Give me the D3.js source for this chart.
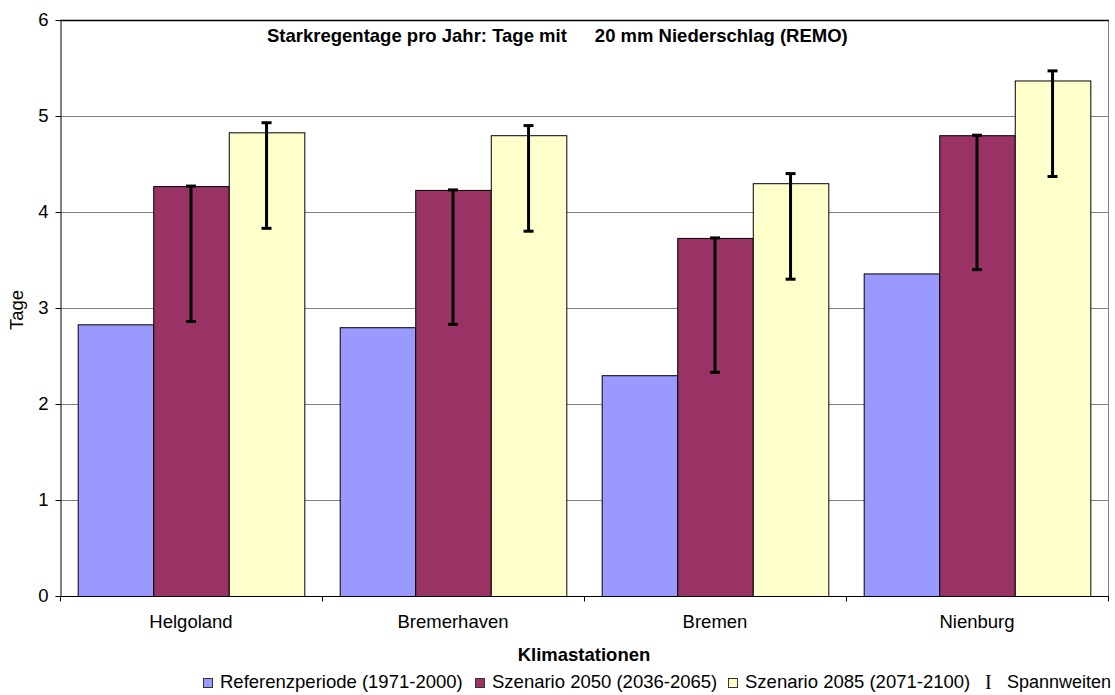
<!DOCTYPE html>
<html>
<head>
<meta charset="utf-8">
<script src="https://cdn.jsdelivr.net/npm/d3@7"></script>
<style>
  body { margin: 0; background: #fff; }
  svg { font-family: "Liberation Sans", Arial, sans-serif; }
</style>
</head>
<body>
<svg id="chart" width="1115" height="695"></svg>
<script>
// data
var stations = ["Helgoland", "Bremerhaven", "Bremen", "Nienburg"];
var seriesNames = ["Referenzperiode (1971-2000)", "Szenario 2050 (2036-2065)", "Szenario 2085 (2071-2100)"];
var refValues = [2.83, 2.80, 2.30, 3.36];
var s2050Values = [4.27, 4.23, 3.73, 4.80];
var s2085Values = [4.83, 4.80, 4.30, 5.37];
var s2050Low = [2.86, 2.83, 2.33, 3.40];
var s2050High = [4.27, 4.23, 3.73, 4.80];
var s2085Low = [3.83, 3.80, 3.30, 4.37];
var s2085High = [4.93, 4.90, 4.40, 5.47];
var yTicks = [0, 1, 2, 3, 4, 5, 6];

var colors = ["#9999ff", "#993366", "#ffffcc"];

var svg = d3.select("#chart");
var plotL = 60, plotR = 1108, plotT = 20, plotB = 596;

var x0 = d3.scaleBand().domain(stations).range([plotL, plotR]).paddingInner(0.135).paddingOuter(0.0675);
var x1 = d3.scaleBand().domain([0, 1, 2]).range([0, x0.bandwidth()]);
var y = d3.scaleLinear().domain([0, 6]).range([plotB, plotT]);

// gridlines
svg.append("g").selectAll("line")
    .data(yTicks.filter(function(d) { return d > 0 && d < 6; }))
    .enter().append("line")
    .attr("x1", plotL).attr("x2", plotR)
    .attr("y1", function(d) { return y(d) + 0.5; })
    .attr("y2", function(d) { return y(d) + 0.5; })
    .attr("stroke", "#808080").attr("stroke-width", 1);

// plot frame: right grey, top dark
svg.append("line").attr("x1", plotR + 0.5).attr("x2", plotR + 0.5).attr("y1", plotT).attr("y2", plotB)
    .attr("stroke", "#808080");
svg.append("line").attr("x1", plotL).attr("x2", plotR + 1).attr("y1", plotT + 0.5).attr("y2", plotT + 0.5)
    .attr("stroke", "#000").attr("stroke-width", 1.5);

// bars
var rows = stations.map(function(s, i) {
    return { station: s, vals: [refValues[i], s2050Values[i], s2085Values[i]] };
});

var groups = svg.append("g").selectAll("g")
    .data(rows)
    .enter().append("g")
    .attr("transform", function(d) { return "translate(" + x0(d.station) + ",0)"; });

groups.selectAll("rect")
    .data(function(d) { return d.vals; })
    .enter().append("rect")
    .attr("x", function(d, i) { return x1(i) + 0.5; })
    .attr("y", function(d) { return y(d) + 0.5; })
    .attr("width", x1.bandwidth())
    .attr("height", function(d) { return y(0) - y(d); })
    .attr("fill", function(d, i) { return colors[i]; })
    .attr("stroke", "#000").attr("stroke-width", 1);

// error bars (Spannweiten)
var errs = [];
stations.forEach(function(s, i) {
    errs.push({ station: s, k: 1, lo: s2050Low[i], hi: s2050High[i] });
    errs.push({ station: s, k: 2, lo: s2085Low[i], hi: s2085High[i] });
});

var eb = svg.append("g").selectAll("g")
    .data(errs)
    .enter().append("g")
    .attr("transform", function(d) {
        return "translate(" + (x0(d.station) + x1(d.k) + x1.bandwidth() / 2) + ",0)";
    });
eb.append("line")
    .attr("x1", 0).attr("x2", 0)
    .attr("y1", function(d) { return y(d.hi); })
    .attr("y2", function(d) { return y(d.lo); })
    .attr("stroke", "#000").attr("stroke-width", 3);
eb.selectAll("line.cap")
    .data(function(d) { return [d.hi, d.lo]; })
    .enter().append("line")
    .attr("class", "cap")
    .attr("x1", -5).attr("x2", 5)
    .attr("y1", function(d) { return y(d); })
    .attr("y2", function(d) { return y(d); })
    .attr("stroke", "#000").attr("stroke-width", 3);

// y axis
var yAxis = d3.axisLeft(y).tickValues(yTicks).tickSize(5).tickSizeOuter(0).tickFormat(d3.format("d"));
var gy = svg.append("g").attr("transform", "translate(" + (plotL + 0.5) + ",0)").call(yAxis);
gy.select(".domain").attr("stroke", "#000");
gy.selectAll(".tick line").attr("stroke", "#000");
gy.selectAll(".tick text").attr("x", -12).attr("font-size", 18.5).attr("fill", "#000")
    .attr("font-family", "Liberation Sans, Arial, sans-serif");

// x axis
var xTickPos = d3.scaleLinear().domain([0, 4]).range([plotL, plotR]);
var gx = svg.append("g").attr("transform", "translate(0," + (plotB + 0.5) + ")");
gx.append("line").attr("x1", plotL).attr("x2", plotR + 1).attr("stroke", "#000");
gx.selectAll("line.t")
    .data([0, 1, 2, 3, 4])
    .enter().append("line")
    .attr("class", "t")
    .attr("x1", function(d) { return Math.round(xTickPos(d)) + 0.5; })
    .attr("x2", function(d) { return Math.round(xTickPos(d)) + 0.5; })
    .attr("y1", 0).attr("y2", 5)
    .attr("stroke", "#000");
gx.selectAll("text")
    .data(stations)
    .enter().append("text")
    .attr("x", function(d) { return x0(d) + x0.bandwidth() / 2; })
    .attr("y", 31.5)
    .attr("text-anchor", "middle")
    .attr("font-size", 18.5)
    .text(function(d) { return d; });

// titles
var title = svg.append("text")
    .attr("x", 267).attr("y", 42)
    .attr("font-size", 18.5).attr("font-weight", "bold");
title.append("tspan").text("Starkregentage pro Jahr: Tage mit");
title.append("tspan").attr("dx", 28).text("20 mm Niederschlag (REMO)");

svg.append("text")
    .attr("x", 584).attr("y", 661)
    .attr("text-anchor", "middle")
    .attr("font-size", 18.5).attr("font-weight", "bold")
    .text("Klimastationen");

svg.append("text")
    .attr("transform", "translate(23,310) rotate(-90)")
    .attr("text-anchor", "middle")
    .attr("font-size", 18.5)
    .text("Tage");

// legend
var legendX = [203, 475, 728];
var lg = svg.append("g").selectAll("g")
    .data(seriesNames)
    .enter().append("g")
    .attr("transform", function(d, i) { return "translate(" + legendX[i] + ",678)"; });
lg.append("rect")
    .attr("x", 0.5).attr("y", 0.5)
    .attr("width", 9).attr("height", 9)
    .attr("fill", function(d, i) { return colors[i]; })
    .attr("stroke", "#333");
lg.append("text")
    .attr("x", 17).attr("y", 9.5)
    .attr("font-size", 18.5)
    .text(function(d) { return d; });

svg.append("text")
    .attr("x", 985).attr("y", 689)
    .attr("font-size", 20)
    .attr("font-family", "Liberation Serif, Times New Roman, serif")
    .text("I");
svg.append("text")
    .attr("x", 1007).attr("y", 687.5)
    .attr("font-size", 18)
    .text("Spannweiten");
</script>
</body>
</html>
